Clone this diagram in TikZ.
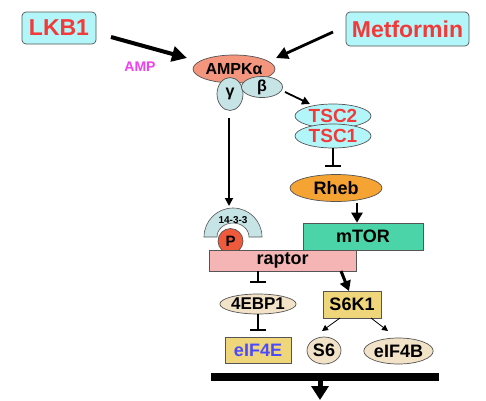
\documentclass[tikz,border=0pt]{standalone}
\usepackage{fontspec}
\setmainfont{Liberation Sans}
\usetikzlibrary{arrows.meta,shapes.geometric}
\definecolor{cyanbox}{HTML}{B3F6FA}
\definecolor{redtxt}{HTML}{F23A3A}
\definecolor{magtxt}{HTML}{F040F0}
\definecolor{salmon}{HTML}{F4957D}
\definecolor{paleblue}{HTML}{C6E3E6}
\definecolor{rhebor}{HTML}{F5A332}
\definecolor{mtorg}{HTML}{4AD4A8}
\definecolor{raptorp}{HTML}{F6B5B5}
\definecolor{pred}{HTML}{F05A3C}
\definecolor{beige}{HTML}{F2E2C8}
\definecolor{khaki}{HTML}{F0D67A}
\definecolor{bluetxt}{HTML}{4A4AFF}
\definecolor{edge}{HTML}{555555}
\begin{document}
\begin{tikzpicture}[x=1pt,y=-1pt,
  shape base/.style={draw=edge, line width=0.7pt, inner sep=0pt, text=black},
  rbox/.style={shape base, rectangle, rounded corners=4pt, fill=cyanbox, text=redtxt, font=\bfseries\fontsize{23}{25}\selectfont},
  sbox/.style={shape base, rectangle, font=\bfseries\fontsize{18}{20}\selectfont},
  oval/.style={shape base, ellipse, font=\bfseries\fontsize{18}{20}\selectfont},
  fat/.style={line width=4pt, -{Triangle[length=15pt,width=15pt]}},
  medarr/.style={line width=2.8pt, -{Triangle[length=12pt,width=12pt]}},
  thinarr/.style={line width=1.8pt, -{Triangle[length=8pt,width=8pt]}},
  tinyarr/.style={line width=0.8pt, -{Triangle[length=6pt,width=6pt]}},
  inh/.style={line width=1.6pt, -{Bar[width=16pt,line width=2pt]}}
]
\useasboundingbox (0,0) rectangle (486,400);

% top inputs
\node[rbox, minimum width=74pt, minimum height=32pt] (lkb) at (59,28) {LKB1};
\node[rbox, minimum width=123pt, minimum height=34pt] (met) at (407.5,29) {Metformin};
\node[font=\bfseries\fontsize{14}{16}\selectfont, text=magtxt, inner sep=0pt] (amp) at (140,67) {AMP};

% AMPK complex
\node[oval, fill=salmon, minimum width=82pt, minimum height=28pt, font=\bfseries\fontsize{16}{18}\selectfont] (ampka) at (234,69) {AMPKα};
\node[oval, fill=paleblue, minimum width=26pt, minimum height=33pt, font=\bfseries\fontsize{16}{18}\selectfont] (gamma) at (230,94) {γ};
\node[oval, fill=paleblue, minimum width=41pt, minimum height=21pt, font=\bfseries\fontsize{16}{18}\selectfont] (beta) at (262,87) {β};

% TSC
\node[oval, fill=cyanbox, text=redtxt, minimum width=76pt, minimum height=24pt, font=\bfseries\fontsize{19}{21}\selectfont] (tsc2) at (333,116) {TSC2};
\node[oval, fill=cyanbox, text=redtxt, minimum width=76pt, minimum height=24pt, font=\bfseries\fontsize{19}{21}\selectfont] (tsc1) at (333,136) {TSC1};

% Rheb, mTOR
\node[oval, fill=rhebor, minimum width=92pt, minimum height=27pt] (rheb) at (336,188) {Rheb};
\node[sbox, fill=mtorg, minimum width=120pt, minimum height=27pt] (mtor) at (363,236.5) {mTOR};

% 14-3-3 and P
\coordinate (ring) at (233,237);
\filldraw[fill=paleblue, draw=edge, line width=0.6pt]
  (204,237) arc[start angle=180, end angle=0, x radius=29pt, y radius=29pt]
  -- (249,237) arc[start angle=0, end angle=180, x radius=16pt, y radius=14pt] -- cycle;
\node[font=\bfseries\fontsize{10}{11}\selectfont, inner sep=0pt] (p1433) at (233,220) {14-3-3};
\node[shape base, circle, fill=pred, minimum size=25pt, font=\bfseries\fontsize{15}{17}\selectfont] (pp) at (230.5,241) {P};

% raptor
\node[sbox, fill=raptorp, minimum width=147pt, minimum height=21pt] (raptor) at (282.5,260.5) {raptor};

% downstream
\node[oval, fill=beige, minimum width=66pt, minimum height=20pt, font=\bfseries\fontsize{17}{19}\selectfont] (ebp) at (258,304) {4EBP1};
\node[sbox, fill=khaki, text=bluetxt, minimum width=66pt, minimum height=26pt] (eif4e) at (258,350) {eIF4E};
\node[sbox, fill=khaki, minimum width=58pt, minimum height=27pt] (s6k) at (352,304.5) {S6K1};
\node[oval, fill=beige, minimum width=34pt, minimum height=27pt] (s6) at (324,350.5) {S6};
\node[oval, fill=beige, minimum width=67pt, minimum height=26pt] (eif4b) at (398.5,351) {eIF4B};
\node[rectangle, fill=black, minimum width=228pt, minimum height=8pt, inner sep=0pt] (bar) at (325,377) {};

% free connector ends
\coordinate (lkbS) at (111,37);
\coordinate (lkbE) at (187,58);
\coordinate (metS) at (333,32);
\coordinate (metE) at (276,58);
\coordinate (betaS) at (285,92);
\coordinate (tscE) at (310,104);
\coordinate (gamS) at (229,118);
\coordinate (ringE) at (229,206);
\coordinate (rhebS) at (357,203);
\coordinate (raptS) at (341,271);
\coordinate (s6kT) at (349,291);
\coordinate (s6kL) at (340,318);
\coordinate (s6E) at (322,331);
\coordinate (s6kR) at (371,318);
\coordinate (s4bE) at (388,331);
\coordinate (downE) at (320,400);

% connectors
\draw[fat] (lkbS) -- (lkbE);
\draw[medarr] (metS) -- (metE);
\draw[thinarr] (betaS) -- (tscE);
\draw[thinarr, line width=1.8pt] (gamS) -- (ringE);
\draw[inh, shorten >=7pt] (tsc1.south) -- (tsc1.south |- rheb.north);
\draw[line width=2.4pt, -{Triangle[length=10pt,width=11pt]}] (rhebS) -- (rhebS |- mtor.north);
\draw[inh, shorten >=11pt] (raptor.south -| ebp.north) -- (ebp.north);
\draw[inh, shorten >=6pt] (ebp.south) -- (eif4e.north);
\draw[line width=3pt, -{Triangle[length=10pt,width=11pt]}] (raptS) -- (s6kT);
\draw[tinyarr] (s6kL) -- (s6E);
\draw[tinyarr] (s6kR) -- (s4bE);
\draw[line width=5pt, -{Triangle[length=14pt,width=17pt]}] (bar.south -| downE) -- (downE);
\end{tikzpicture}
\end{document}
